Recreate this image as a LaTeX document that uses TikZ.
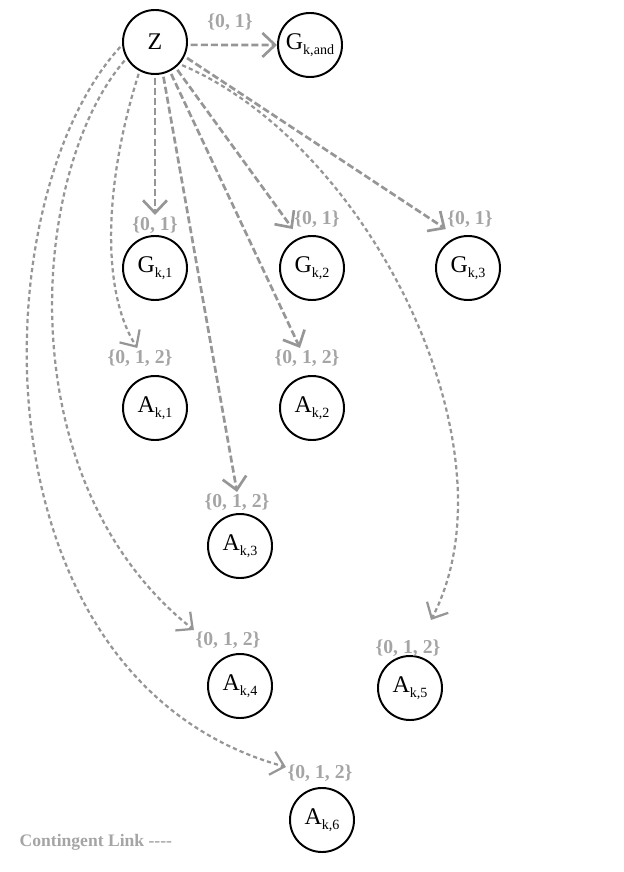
\documentclass[tikz,border=0pt]{standalone}
\usepackage{fontspec}
\setmainfont{Liberation Serif}
\usepackage{xcolor}
\usetikzlibrary{arrows.meta, calc}
\definecolor{linkgray}{RGB}{150,150,150}
\definecolor{labgray}{RGB}{165,165,165}
\newcommand{\vname}[2]{#1\raisebox{-0.5ex}{\fontsize{10}{10}\selectfont #2}}
\tikzset{
  var/.style={draw=black, circle, line width=1.4pt, minimum size=1.6cm, inner sep=0pt, font=\fontsize{17}{17}\selectfont},
  dom/.style={text=labgray, font=\bfseries\fontsize{14}{14}\selectfont, inner sep=1pt},
  link/.style={draw=linkgray, line width=1.9pt, dash pattern=on 5pt off 2.2pt, -{Straight Barb[length=9pt,width=17pt]}, shorten <=2pt},
  clink/.style={link, line width=1.6pt, dash pattern=on 3pt off 2.2pt}
}

\begin{document}
\begin{tikzpicture}[x=0.025cm, y=-0.025cm]
    \useasboundingbox (0,0) rectangle (623,872);
    \node[var] (Z) at (155,42) {Z};
    \node[var] (Gand) at (310,45) {\vname{G}{k,and}};
    \node[var] (G1) at (155,268) {\vname{G}{k,1}};
    \node[var] (G2) at (312,268) {\vname{G}{k,2}};
    \node[var] (G3) at (468,268) {\vname{G}{k,3}};
    \node[var] (A1) at (155,408) {\vname{A}{k,1}};
    \node[var] (A2) at (312,408) {\vname{A}{k,2}};
    \node[var] (A3) at (240,546) {\vname{A}{k,3}};
    \node[var] (A4) at (240,686) {\vname{A}{k,4}};
    \node[var] (A5) at (410,688) {\vname{A}{k,5}};
    \node[var] (A6) at (322,820) {\vname{A}{k,6}};

    \node[dom] (land) at (230,22) {\{0, 1\}};
    \node[dom] (lG1) at (155,225) {\{0, 1\}};
    \node[dom] (lG2) at (317,219) {\{0, 1\}};
    \node[dom] (lG3) at (470,219) {\{0, 1\}};
    \node[dom] (lA1) at (140,358) {\{0, 1, 2\}};
    \node[dom] (lA2) at (307,358) {\{0, 1, 2\}};
    \node[dom] (lA3) at (237,502) {\{0, 1, 2\}};
    \node[dom] (lA4) at (228,640) {\{0, 1, 2\}};
    \node[dom] (lA5) at (408,648) {\{0, 1, 2\}};
    \node[dom] (lA6) at (320,773) {\{0, 1, 2\}};
    \node[dom, font=\bfseries\fontsize{12.5}{12.5}\selectfont, anchor=west] (legend) at (18,842) {Contingent Link -{}-{}-{}-};

    \draw[link] (Z.-5) -- (Gand.west);
    \draw[link] (Z) -- (lG1);
    \draw[link] (Z.-51) -- (lG2.south west);
    \draw[link] (Z.-26) -- (lG3.south west);
    \draw[link] (Z.-63) -- (lA2.125);
    \draw[link] (Z.-76) -- (lA3.north);
    \draw[clink] (Z.242) .. controls (105,180) and (100,290) .. (lA1.105);
    \draw[clink] (Z.210) .. controls (30,170) and (5,480) .. (lA4.north west);
    \draw[clink] (Z.185) .. controls (-20,200) and (-30,680) .. (lA6.170);
    \draw[clink] (Z.-42) .. controls (370,145) and (520,450) .. ([shift={(23,-18)}]lA5.north);
\end{tikzpicture}
\end{document}
